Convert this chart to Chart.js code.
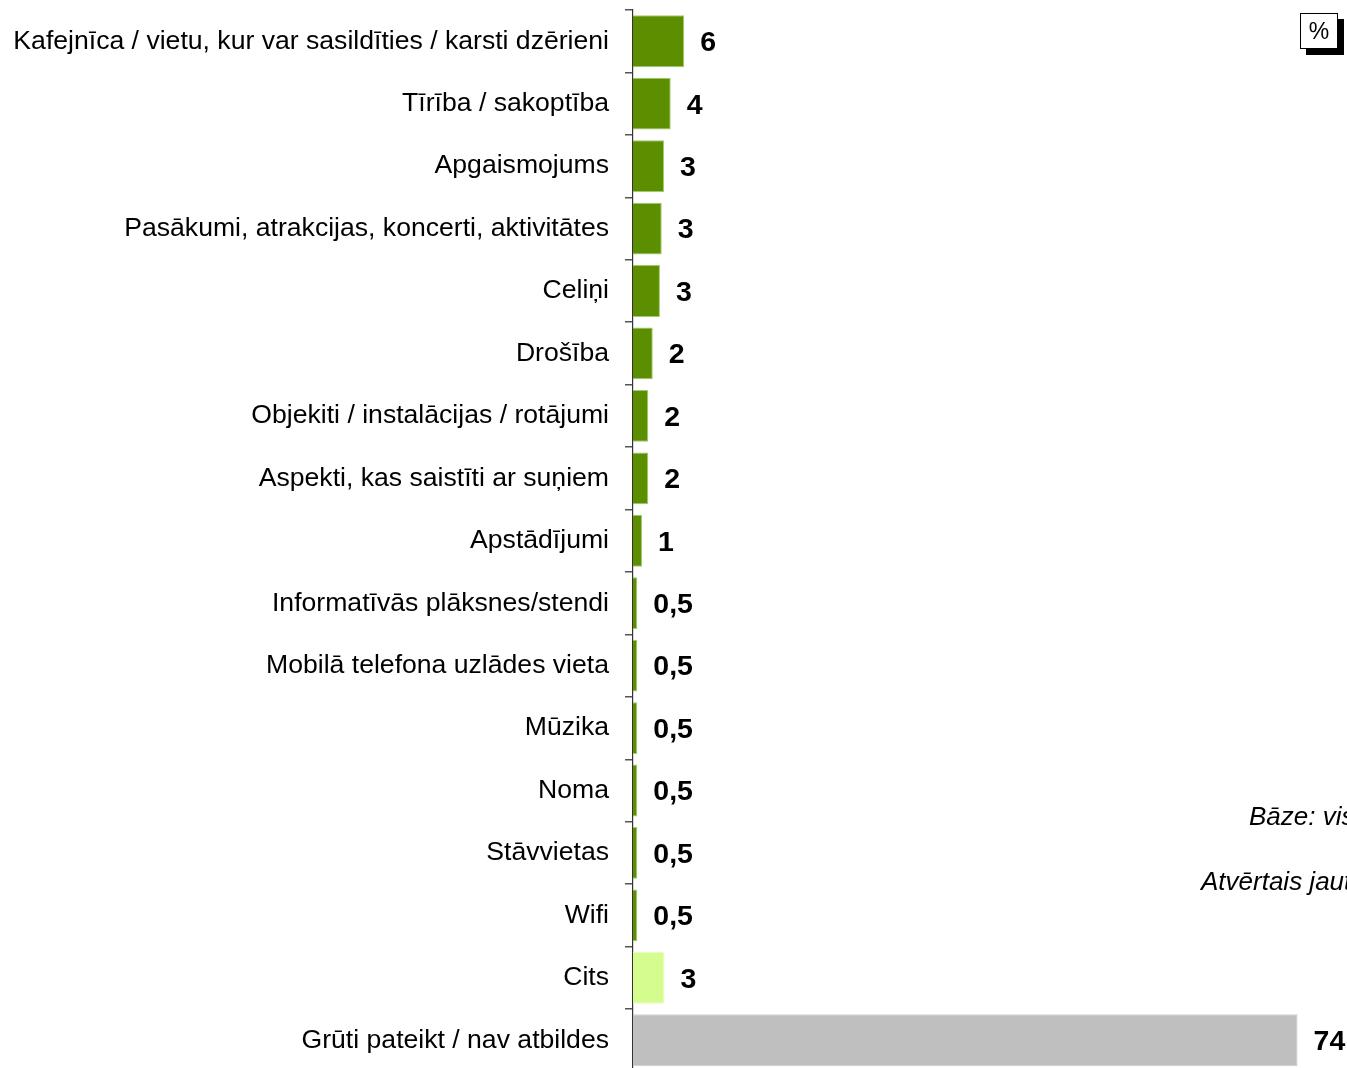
<!DOCTYPE html>
<html>
<head>
<meta charset="utf-8">
<script src="https://cdn.jsdelivr.net/npm/chart.js@4"></script>
<style>
html,body{margin:0;padding:0;background:#fff;overflow:hidden;}
#wrap{position:relative;width:1347px;height:1080px;}
.note{position:absolute;font:italic 26px "Liberation Sans",Arial,sans-serif;line-height:30px;white-space:nowrap;color:#000;}
#pct{position:absolute;left:1300px;top:13px;width:36px;height:34px;border:1px solid #000;background:#fff;
 box-shadow:6px 6px 0 #000;font:23px "Liberation Sans",Arial,sans-serif;text-align:center;line-height:34px;}
</style>
</head>
<body>
<div id="wrap">
  <canvas id="myChart" width="1347" height="1080"></canvas>
  <div id="pct">%</div>
  <div class="note" style="left:1249px;top:801px">Bāze: visi respondenti</div>
  <div class="note" style="left:1201px;top:866px">Atvērtais jautājums</div>
</div>
<script>
// categories + values (bar lengths), printed labels as shown
const categories=[
 "Kafejnīca / vietu, kur var sasildīties / karsti dzērieni",
 "Tīrība / sakoptība",
 "Apgaismojums",
 "Pasākumi, atrakcijas, koncerti, aktivitātes",
 "Celiņi",
 "Drošība",
 "Objekiti / instalācijas / rotājumi",
 "Aspekti, kas saistīti ar suņiem",
 "Apstādījumi",
 "Informatīvās plāksnes/stendi",
 "Mobilā telefona uzlādes vieta",
 "Mūzika",
 "Noma",
 "Stāvvietas",
 "Wifi",
 "Cits",
 "Grūti pateikt / nav atbildes"
]
const values=[5.7,4.2,3.45,3.2,3.0,2.2,1.7,1.7,1.0,0.48,0.48,0.48,0.48,0.48,0.48,3.5,74]
const valueLabels=["6","4","3","3","3","2","2","2","1","0,5","0,5","0,5","0,5","0,5","0,5","3","74"]

let barColors=[]
let edgeColors=[]
categories.forEach(c=>{
  if(c=="Cits"){barColors.push("#d5fc8f");edgeColors.push("#e6ffc0")}
  else if(c.indexOf("Grūti")==0){barColors.push("#bfbfbf");edgeColors.push("#cfcfcf")}
  else{barColors.push("#5b8f00");edgeColors.push("#a3c86e")}
})

const labelPlugin={
  id:"valueLabels",
  afterDatasetsDraw(chart){
    const c=chart.ctx
    const meta=chart.getDatasetMeta(0)
    c.save()
    c.font='bold 28.5px "Liberation Sans", Arial, sans-serif'
    c.fillStyle="#000"
    c.textAlign="left"
    c.textBaseline="middle"
    meta.data.forEach((bar,i)=>{
      c.fillText(valueLabels[i],bar.x+16,bar.y+2)
    })
    c.restore()
  }
}

const ctx=document.getElementById("myChart").getContext("2d")
let myChart=new Chart(ctx,{
  type:"bar",
  data:{
    labels:categories,
    datasets:[{
      data:values,
      backgroundColor:barColors,
      borderColor:edgeColors,
      borderWidth:1,
      barPercentage:0.83,
      categoryPercentage:1
    }]
  },
  options:{
    indexAxis:"y",
    responsive:false,
    animation:false,
    layout:{padding:{top:10,bottom:8.5,left:0,right:0}},
    plugins:{legend:{display:false},tooltip:{enabled:false}},
    scales:{
      x:{display:false,min:0,max:79.5},
      y:{
        afterFit(scale){scale.width=633;scale.paddingTop=0;scale.paddingBottom=0},
        grid:{offset:true,drawOnChartArea:false,drawTicks:true,tickLength:8,color:"#555",lineWidth:1.5},
        border:{display:true,color:"#333",width:1.2},
        ticks:{padding:16,color:"#000",font:{family:'"Liberation Sans", Arial, sans-serif',size:26.6}}
      }
    }
  },
  plugins:[labelPlugin]
})
</script>
</body>
</html>
